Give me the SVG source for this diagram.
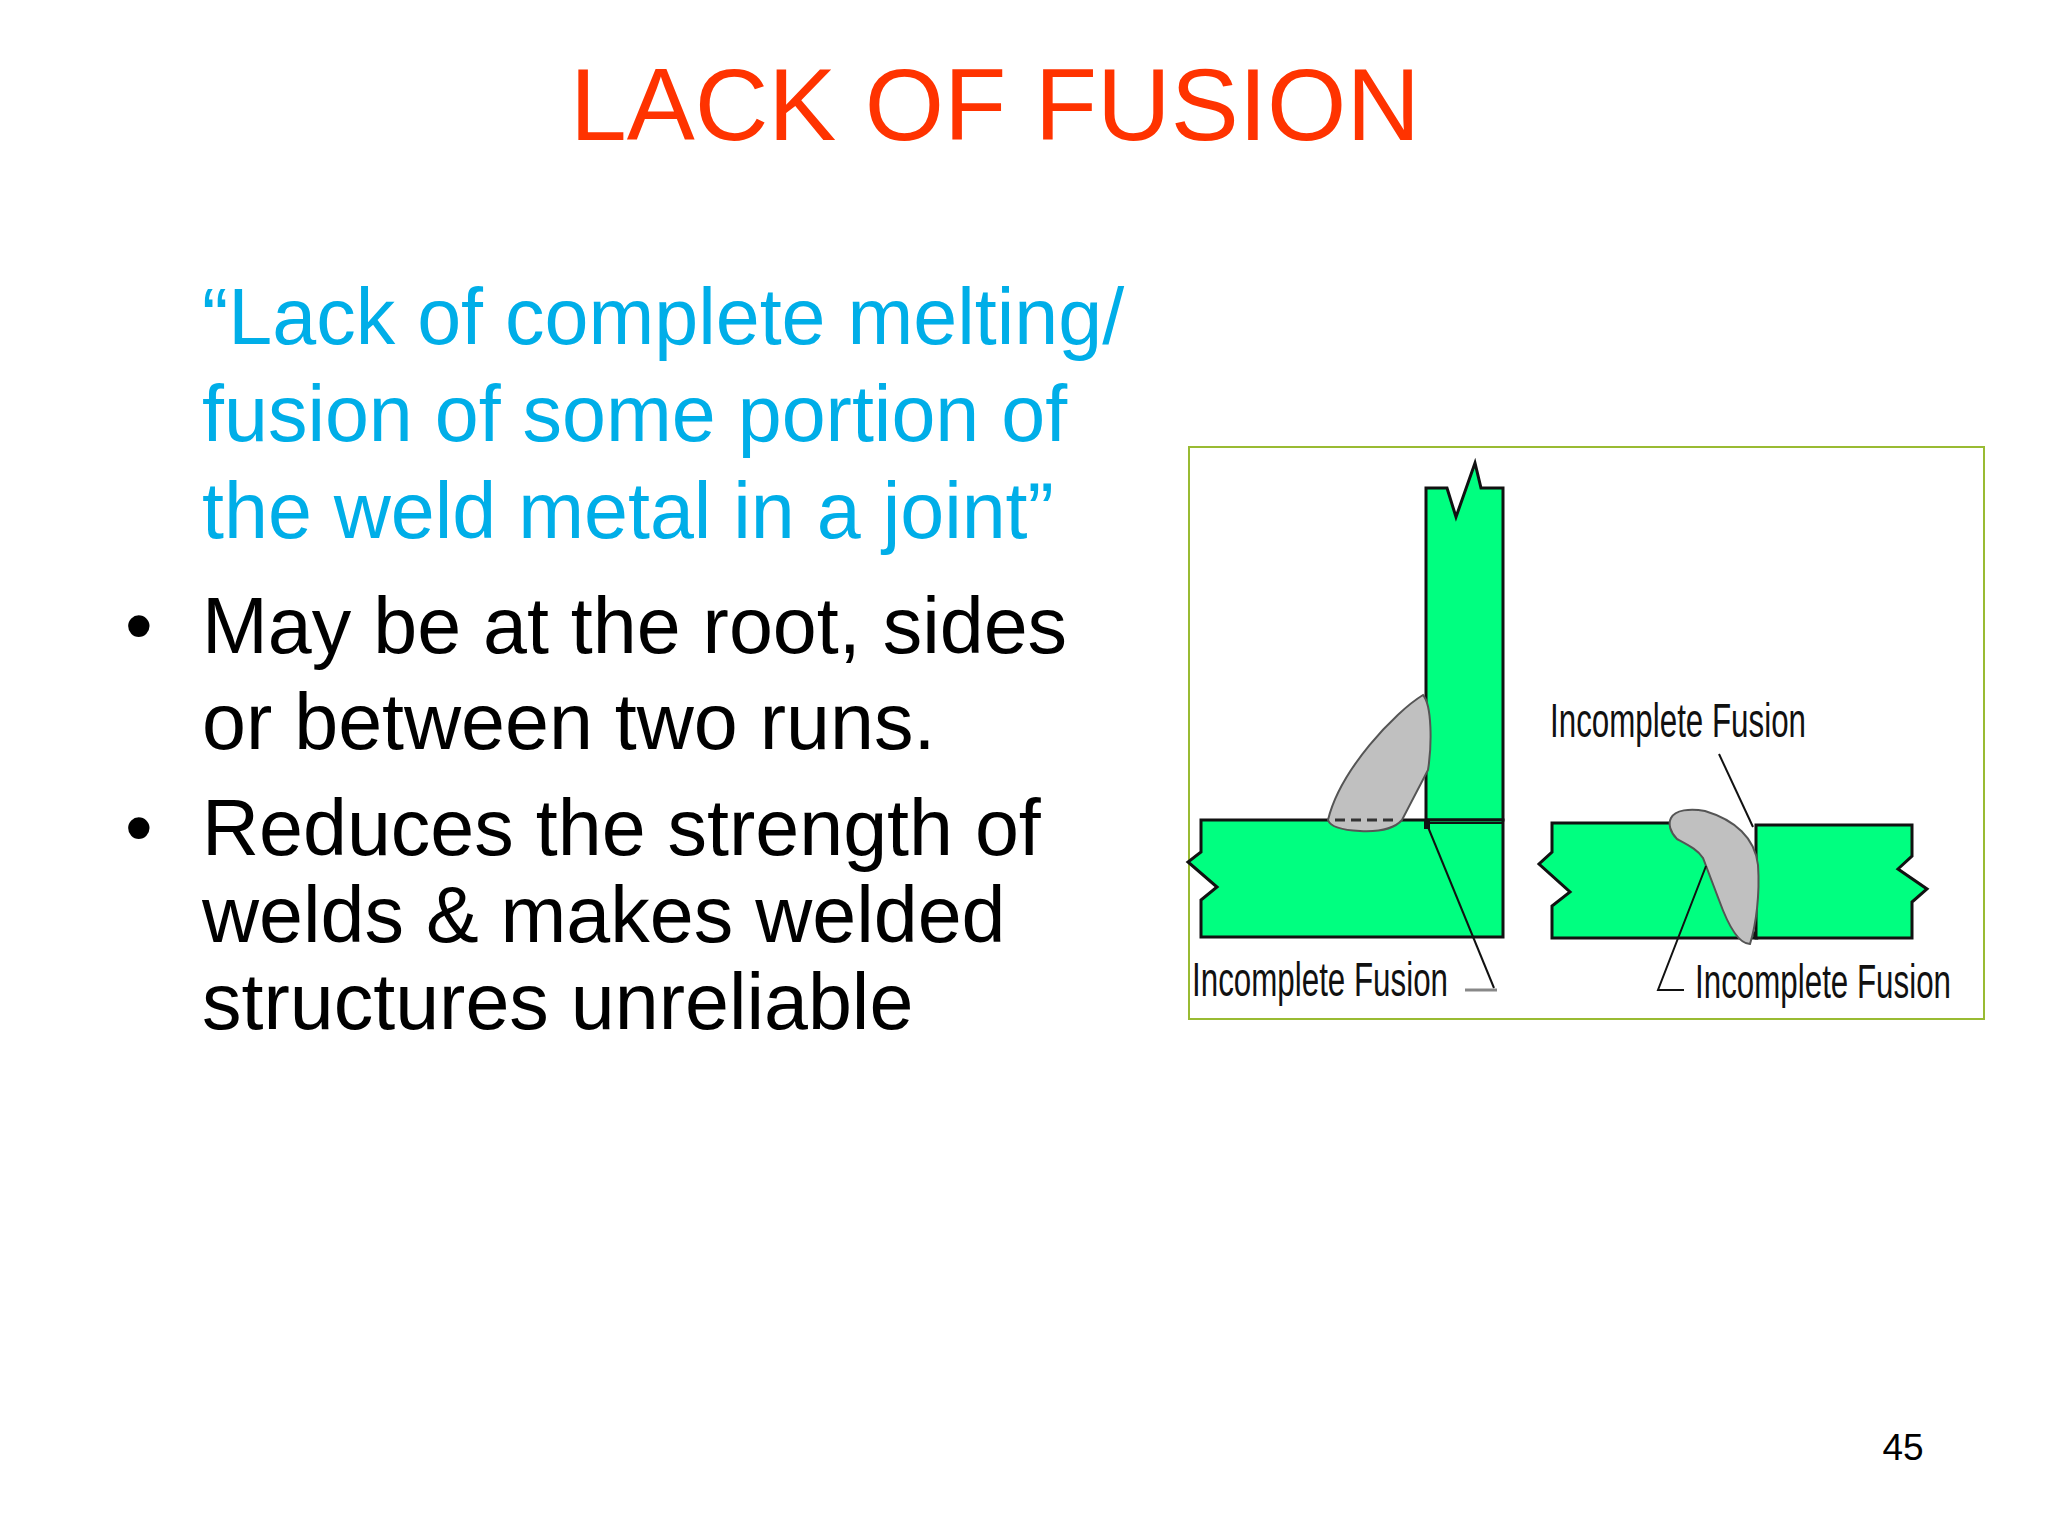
<svg xmlns="http://www.w3.org/2000/svg" width="2048" height="1536" viewBox="0 0 2048 1536">
<style>
.t{font-family:"Liberation Sans",Arial,sans-serif}
.b{font-size:79px;fill:#000}
.c{font-size:79px;fill:#00aee8}
.plate{fill:#00ff80;stroke:#111;stroke-width:3}
.weld{fill:#c0c0c0;stroke:#555;stroke-width:2}
.lead{fill:none;stroke:#111;stroke-width:2}
.lbl{font-family:"Liberation Sans",Arial,sans-serif;font-size:48px;fill:#111}
</style>
<rect width="2048" height="1536" fill="#fff"/>
<text class="t" x="995" y="140" font-size="102" fill="#ff3300" text-anchor="middle">LACK OF FUSION</text>
<g id="definition">
<text class="t c" x="202" y="344">“Lack of complete melting/</text>
<text class="t c" x="202" y="441">fusion of some portion of</text>
<text class="t c" x="202" y="538">the weld metal in a joint”</text>
</g>
<g id="bullets">
<text class="t b" x="125" y="653">•</text>
<text class="t b" x="202" y="653">May be at the root, sides</text>
<text class="t b" x="202" y="749">or between two runs.</text>
<text class="t b" x="125" y="855">•</text>
<text class="t b" x="202" y="855">Reduces the strength of</text>
<text class="t b" x="202" y="942">welds &amp; makes welded</text>
<text class="t b" x="202" y="1029">structures unreliable</text>
</g>
<g id="figure">
<rect x="1189" y="447" width="795" height="572" fill="#fff" stroke="#99bb33" stroke-width="2"/>
<path class="plate" d="M1426,488 L1447,488 L1456,517 L1475,463 L1481,488 L1503,488 L1503,820 L1426,820 Z"/>
<path class="plate" d="M1201,820 L1503,820 L1503,937 L1201,937 L1201,900 L1217,887 L1188,862 L1201,852 Z"/>
<line x1="1426" y1="823" x2="1503" y2="823" stroke="#111" stroke-width="2"/>
<path class="weld" d="M1328,820 C1340,770 1395,712 1423,695 C1432,705 1432,745 1428,770 L1402,820 C1395,828 1380,832 1360,831 C1340,830 1330,826 1328,820 Z"/>
<line x1="1335" y1="820" x2="1398" y2="820" stroke="#333" stroke-width="3" stroke-dasharray="10,6"/>
<rect x="1424" y="819" width="6" height="10" fill="#111"/>
<polyline class="lead" points="1428,827 1494,988"/>
<line x1="1465" y1="990" x2="1497" y2="990" stroke="#888" stroke-width="3"/>
<text class="lbl" x="1192" y="996" textLength="256" lengthAdjust="spacingAndGlyphs">Incomplete Fusion</text>
<path class="plate" d="M1552,823 L1671,823 L1690,838 L1712,845 L1756,938 L1552,938 L1552,906 L1570,892 L1539,864 L1552,852 Z"/>
<path class="plate" d="M1756,825 L1912,825 L1912,856 L1898,869 L1927,889 L1912,902 L1912,938 L1756,938 Z"/>
<path class="weld" d="M1671,818 C1675,810 1690,808 1705,811 C1735,820 1755,838 1758,865 C1760,895 1756,925 1750,944 C1738,944 1728,925 1719,900 L1703,858 C1698,850 1690,846 1677,839 C1670,832 1668,824 1671,818 Z"/>
<polyline class="lead" points="1719,754 1753,827"/>
<polyline class="lead" points="1706,866 1658,990 1684,990"/>
<text class="lbl" x="1550" y="737" textLength="256" lengthAdjust="spacingAndGlyphs">Incomplete Fusion</text>
<text class="lbl" x="1695" y="998" textLength="256" lengthAdjust="spacingAndGlyphs">Incomplete Fusion</text>
</g>
<text class="t" x="1903" y="1460" font-size="37" fill="#000" text-anchor="middle">45</text>
</svg>
